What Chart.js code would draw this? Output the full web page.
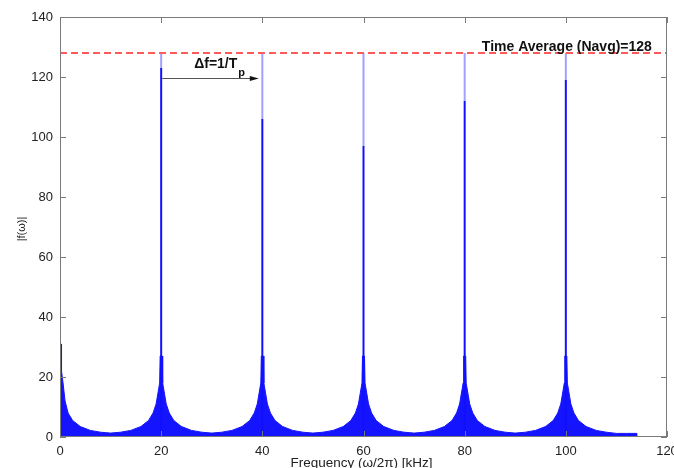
<!DOCTYPE html>
<html>
<head>
<meta charset="utf-8">
<script src="https://cdn.jsdelivr.net/npm/chart.js@4/dist/chart.umd.min.js"></script>
<style>
  html, body { margin: 0; padding: 0; background: #fff; }
  canvas { display: block; }
</style>
</head>
<body>
<canvas id="spectrum" width="674" height="468"></canvas>
<script>
// Spectrum |f(w)| vs frequency

// upper envelope of the dense spectrum (kHz, magnitude)
const freqKHz = [
    0, 0.25, 0.3, 0.6, 1, 1.6, 2.5, 4, 6, 8, 10,
    12, 14, 16, 17.5, 18.4, 19, 19.4, 19.7, 19.8, 20.2, 20.3, 20.6, 21, 21.6, 22.5, 24, 26, 28, 30,
    32, 34, 36, 37.5, 38.4, 39, 39.4, 39.7, 39.8, 40.2, 40.3, 40.6, 41, 41.6, 42.5, 44, 46, 48, 50,
    52, 54, 56, 57.5, 58.4, 59, 59.4, 59.7, 59.8, 60.2, 60.3, 60.6, 61, 61.6, 62.5, 64, 66, 68, 70,
    72, 74, 76, 77.5, 78.4, 79, 79.4, 79.7, 79.8, 80.2, 80.3, 80.6, 81, 81.6, 82.5, 84, 86, 88, 90,
    92, 94, 96, 97.5, 98.4, 99, 99.4, 99.7, 99.8, 100.2, 100.3, 100.6, 101, 101.6, 102.5, 104, 106, 108, 110,
    112, 114, 114
];
const magnitude = [
    31, 31, 22, 18, 12, 8, 5.5, 3.5, 2.2, 1.6, 1.3,
    1.6, 2.2, 3.5, 5.5, 8, 11, 15, 18, 27, 27, 18, 15, 11, 8, 5.5, 3.5, 2.2, 1.6, 1.3,
    1.6, 2.2, 3.5, 5.5, 8, 11, 15, 18, 27, 27, 18, 15, 11, 8, 5.5, 3.5, 2.2, 1.6, 1.3,
    1.6, 2.2, 3.5, 5.5, 8, 11, 15, 18, 27, 27, 18, 15, 11, 8, 5.5, 3.5, 2.2, 1.6, 1.3,
    1.6, 2.2, 3.5, 5.5, 8, 11, 15, 18, 27, 27, 18, 15, 11, 8, 5.5, 3.5, 2.2, 1.6, 1.3,
    1.6, 2.2, 3.5, 5.5, 8, 11, 15, 18, 27, 27, 18, 15, 11, 8, 5.5, 3.5, 2.2, 1.6, 1.2,
    1.2, 1.2, 0
];

// harmonic spikes
const peakFreq = [20, 40, 60, 80, 100];
const peakSolid = [123, 106, 97, 112, 119];
const peakTop = 128;

const timeAverage = 128;
const arrowFrom = 20;   // kHz
const arrowTo = 39.3;   // kHz
const arrowLevel = 119.7;

const xTicks = [0, 20, 40, 60, 80, 100, 120];
const yTicks = [0, 20, 40, 60, 80, 100, 120, 140];

const FONT = '"Liberation Sans", Arial, Helvetica, sans-serif';

// build datasets
const datasets = [];
datasets.push({
    label: 'Time average',
    data: [{x: 0, y: timeAverage}, {x: 120, y: timeAverage}],
    borderColor: '#ff5a5a',
    borderWidth: 2,
    borderDash: [7, 4],
    pointRadius: 0,
    order: 0
});
for (let i = 0; i < peakFreq.length; i++) {
    datasets.push({
        data: [{x: peakFreq[i], y: peakSolid[i]}, {x: peakFreq[i], y: peakTop}],
        borderColor: '#a0a0ff',
        borderWidth: 2,
        pointRadius: 0,
        order: 1
    });
    datasets.push({
        data: [{x: peakFreq[i], y: 0}, {x: peakFreq[i], y: peakSolid[i]}],
        borderColor: '#1010ff',
        borderWidth: 2,
        pointRadius: 0,
        order: 1
    });
}
datasets.push({
    label: '|f(w)|',
    data: freqKHz.map((f, i) => ({x: f, y: magnitude[i]})),
    borderColor: '#1414ff',
    backgroundColor: '#1414ff',
    borderWidth: 1,
    fill: 'origin',
    pointRadius: 0,
    tension: 0,
    order: 2
});

// MATLAB style box, inward ticks, annotations and axis titles
const matlabAxes = {
    id: 'matlabAxes',
    afterDraw(chart) {
        const ctx = chart.ctx;
        const a = chart.chartArea;
        const xs = chart.scales.x;
        const ys = chart.scales.y;
        ctx.save();
        ctx.strokeStyle = '#7a7a7a';
        ctx.lineWidth = 1;
        ctx.strokeRect(a.left + 0.5, a.top + 0.5, a.right - a.left - 1, a.bottom - a.top - 1);
        ctx.beginPath();
        xTicks.forEach(v => {
            const px = Math.round(xs.getPixelForValue(v)) + 0.5;
            ctx.moveTo(px, a.bottom); ctx.lineTo(px, a.bottom - 6);
            ctx.moveTo(px, a.top); ctx.lineTo(px, a.top + 6);
        });
        yTicks.forEach(v => {
            const py = Math.round(ys.getPixelForValue(v)) + 0.5;
            ctx.moveTo(a.left, py); ctx.lineTo(a.left + 6, py);
            ctx.moveTo(a.right, py); ctx.lineTo(a.right - 6, py);
        });
        ctx.stroke();

        // arrow for delta f
        const ay = Math.round(ys.getPixelForValue(arrowLevel)) + 0.5;
        const ax0 = xs.getPixelForValue(arrowFrom) + 1;
        const ax1 = xs.getPixelForValue(arrowTo);
        ctx.strokeStyle = '#555';
        ctx.beginPath();
        ctx.moveTo(ax0, ay); ctx.lineTo(ax1 - 6, ay);
        ctx.stroke();
        ctx.fillStyle = '#111';
        ctx.beginPath();
        ctx.moveTo(ax1, ay);
        ctx.lineTo(ax1 - 9, ay - 2.5);
        ctx.lineTo(ax1 - 9, ay + 2.5);
        ctx.closePath();
        ctx.fill();

        // text annotations
        ctx.fillStyle = '#111';
        ctx.textBaseline = 'alphabetic';
        ctx.textAlign = 'left';
        ctx.font = 'bold 14px ' + FONT;
        const tx = xs.getPixelForValue(arrowFrom) + 33;
        ctx.fillText('\u0394f=1/T', tx, ay - 11);
        const tw = ctx.measureText('\u0394f=1/T').width;
        ctx.font = 'bold 11px ' + FONT;
        ctx.fillText('p', tx + tw + 1, ay - 3);

        ctx.font = 'bold 14px ' + FONT;
        ctx.fillText('Time Average (Navg)=128', xs.getPixelForValue(83.4), ys.getPixelForValue(timeAverage) - 2);

        // axis titles
        ctx.fillStyle = '#222';
        ctx.font = '13.5px ' + FONT;
        ctx.textAlign = 'center';
        ctx.textBaseline = 'top';
        ctx.fillText('Frequency (\u03c9/2\u03c0) [kHz]', (a.left + a.right) / 2 - 2, 457);
        ctx.translate(22, 229);
        ctx.rotate(-Math.PI / 2);
        ctx.textBaseline = 'middle';
        ctx.font = '11px ' + FONT;
        ctx.fillText('|f(\u03c9)|', 0, 0);
        ctx.restore();
    }
};

const ctx = document.getElementById('spectrum').getContext('2d');
const spectrumChart = new Chart(ctx, {
    type: 'line',
    data: { datasets: datasets },
    options: {
        responsive: false,
        animation: false,
        layout: { padding: { top: 17, right: 7, left: 0, bottom: 0 } },
        plugins: {
            legend: { display: false },
            tooltip: { enabled: false }
        },
        scales: {
            x: {
                type: 'linear',
                min: 0,
                max: 120,
                afterBuildTicks: s => { s.ticks = xTicks.map(v => ({value: v})); },
                afterFit: s => { s.height = 31; s.paddingLeft = 0; s.paddingRight = 0; },
                grid: { display: false, drawTicks: false, tickLength: 0 },
                border: { display: false },
                ticks: { color: '#222', padding: 7, maxRotation: 0, font: { family: FONT, size: 13 } }
            },
            y: {
                type: 'linear',
                min: 0,
                max: 140,
                afterBuildTicks: s => { s.ticks = yTicks.map(v => ({value: v})); },
                afterFit: s => { s.width = 60; s.paddingTop = 0; s.paddingBottom = 0; },
                grid: { display: false, drawTicks: false, tickLength: 0 },
                border: { display: false },
                ticks: { color: '#222', padding: 7, font: { family: FONT, size: 13 } }
            }
        }
    },
    plugins: [matlabAxes]
});
</script>
</body>
</html>
